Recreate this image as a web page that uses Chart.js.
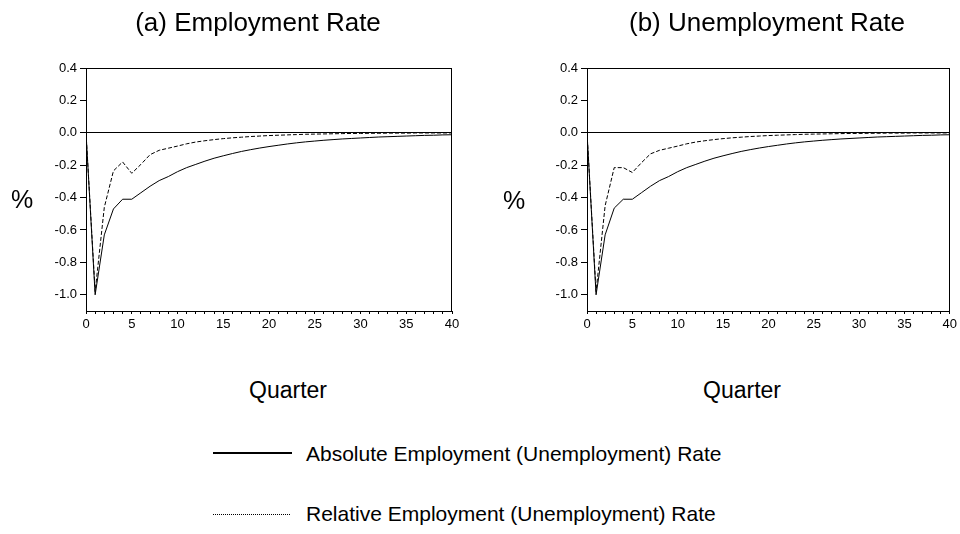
<!DOCTYPE html>
<html>
<head>
<meta charset="utf-8">
<script src="https://cdn.jsdelivr.net/npm/chart.js@4/dist/chart.umd.min.js"></script>
<style>
  html, body { margin: 0; padding: 0; background: #fff; }
  #wrap { position: relative; width: 960px; height: 534px; overflow: hidden; font-family: "Liberation Sans", Arial, sans-serif; color: #000; }
  canvas { position: absolute; top: 0; }
  .t { position: absolute; white-space: nowrap; transform: translate(-50%, -50%); line-height: 1; }
  .l { position: absolute; white-space: nowrap; transform: translateY(-50%); line-height: 1; }
  .sw { position: absolute; height: 0; }
</style>
</head>
<body>
<div id="wrap">
  <canvas id="c1" width="480" height="340" style="left:0;width:480px;height:340px"></canvas>
  <canvas id="c2" width="480" height="340" style="left:480px;width:480px;height:340px"></canvas>

  <div class="t" style="left:258px;top:22px;font-size:26px">(a) Employment Rate</div>
  <div class="t" style="left:767px;top:22px;font-size:26px">(b) Unemployment Rate</div>

  <div class="t" style="left:22px;top:199px;font-size:25px">%</div>
  <div class="t" style="left:514px;top:200px;font-size:25px">%</div>

  <div class="t" style="left:288px;top:390px;font-size:23px">Quarter</div>
  <div class="t" style="left:742px;top:390px;font-size:23px">Quarter</div>

  <div class="sw" style="left:213px;top:452px;width:79px;border-top:2px solid #000"></div>
  <div class="l" style="left:306px;top:453px;font-size:21px">Absolute Employment (Unemployment) Rate</div>
  <div class="sw" style="left:213px;top:514px;width:77px;border-top:1px dotted #000"></div>
  <div class="l" style="left:306px;top:513px;font-size:21px">Relative Employment (Unemployment) Rate</div>
</div>
<script>
const quarters = [0,1,2,3,4,5,6,7,8,9,10,11,12,13,14,15,16,17,18,19,20,21,22,23,24,25,26,27,28,29,30,31,32,33,34,35,36,37,38,39,40];
const xTickLabels = [0,5,10,15,20,25,30,35,40];
const yTicks = [-1.0,-0.8,-0.6,-0.4,-0.2,0.0,0.2,0.4];

const absEmployment = [0,-1.00,-0.63,-0.47,-0.41,-0.41,-0.37,-0.33,-0.295,-0.27,-0.24,-0.215,-0.195,-0.175,-0.157,-0.142,-0.128,-0.115,-0.104,-0.094,-0.085,-0.077,-0.069,-0.062,-0.056,-0.051,-0.046,-0.042,-0.038,-0.035,-0.032,-0.029,-0.026,-0.024,-0.022,-0.020,-0.018,-0.016,-0.015,-0.013,-0.012];
const relEmployment = [0,-0.98,-0.46,-0.235,-0.18,-0.25,-0.195,-0.135,-0.108,-0.095,-0.082,-0.068,-0.057,-0.049,-0.042,-0.036,-0.031,-0.027,-0.023,-0.020,-0.017,-0.015,-0.013,-0.011,-0.009,-0.008,-0.007,-0.006,-0.005,-0.004,-0.004,-0.003,-0.003,-0.002,-0.002,-0.002,-0.001,-0.001,-0.001,-0.001,-0.001];
const absUnemployment = [0,-1.00,-0.63,-0.465,-0.41,-0.41,-0.37,-0.33,-0.295,-0.27,-0.24,-0.215,-0.195,-0.175,-0.157,-0.142,-0.128,-0.115,-0.104,-0.094,-0.085,-0.077,-0.069,-0.062,-0.056,-0.051,-0.046,-0.042,-0.038,-0.035,-0.032,-0.029,-0.026,-0.024,-0.022,-0.020,-0.018,-0.016,-0.015,-0.013,-0.012];
const relUnemployment = [0,-0.98,-0.45,-0.215,-0.215,-0.245,-0.185,-0.13,-0.108,-0.095,-0.082,-0.068,-0.057,-0.049,-0.042,-0.036,-0.031,-0.027,-0.023,-0.020,-0.017,-0.015,-0.013,-0.011,-0.009,-0.008,-0.007,-0.006,-0.005,-0.004,-0.004,-0.003,-0.003,-0.002,-0.002,-0.002,-0.001,-0.001,-0.001,-0.001,-0.001];

const frame = {
  id: 'frame',
  afterDraw(chart) {
    const a = chart.chartArea, ctx = chart.ctx;
    ctx.save();
    ctx.strokeStyle = '#000';
    ctx.lineWidth = 1;
    ctx.beginPath();
    ctx.moveTo(a.left, Math.round(a.top) + 0.5);
    ctx.lineTo(a.right, Math.round(a.top) + 0.5);
    ctx.moveTo(Math.round(a.right) - 0.5, a.top);
    ctx.lineTo(Math.round(a.right) - 0.5, a.bottom);
    ctx.stroke();
    ctx.restore();
  }
};

function pts(vals) { return quarters.map((q, i) => ({ x: q, y: vals[i] })); }

function makeChart(id, absVals, relVals, yWidth, padRight) {
  const font = { family: "'Liberation Sans', Arial, sans-serif", size: 13 };
  return new Chart(document.getElementById(id), {
    type: 'line',
    data: {
      datasets: [
        { label: 'Absolute', data: pts(absVals), borderColor: '#000', borderWidth: 1, pointRadius: 0, tension: 0, fill: false },
        { label: 'Relative', data: pts(relVals), borderColor: '#000', borderWidth: 1, borderDash: [4, 2], pointRadius: 0, tension: 0, fill: false }
      ]
    },
    options: {
      responsive: false,
      animation: false,
      events: [],
      layout: { padding: { left: 0, right: padRight, top: 68, bottom: 0 } },
      plugins: { legend: { display: false }, tooltip: { enabled: false }, title: { display: false } },
      scales: {
        x: {
          type: 'linear', min: 0, max: 40,
          afterFit(s) { s.height = 29; },
          border: { display: true, color: '#000', width: 1 },
          grid: { drawOnChartArea: false, drawTicks: true, tickLength: 3, tickColor: '#000' },
          ticks: {
            stepSize: 1, autoSkip: false, maxRotation: 0, padding: 3, color: '#000', font,
            callback: v => xTickLabels.includes(v) ? String(v) : ''
          }
        },
        y: {
          type: 'linear', min: -1.1, max: 0.4,
          afterFit(s) { s.width = yWidth; },
          afterBuildTicks(s) { s.ticks = yTicks.map(v => ({ value: v })); },
          border: { display: true, color: '#000', width: 1 },
          grid: {
            drawOnChartArea: true, drawTicks: true, tickLength: 6, tickColor: '#000',
            color: c => (c.tick && Math.abs(c.tick.value) < 1e-9) ? '#000' : 'rgba(0,0,0,0)'
          },
          ticks: { padding: 3, color: '#000', font, callback: v => Number(v).toFixed(1) }
        }
      }
    },
    plugins: [frame]
  });
}

makeChart('c1', absEmployment, relEmployment, 86, 28);
makeChart('c2', absUnemployment, relUnemployment, 107, 7);
</script>
</body>
</html>
